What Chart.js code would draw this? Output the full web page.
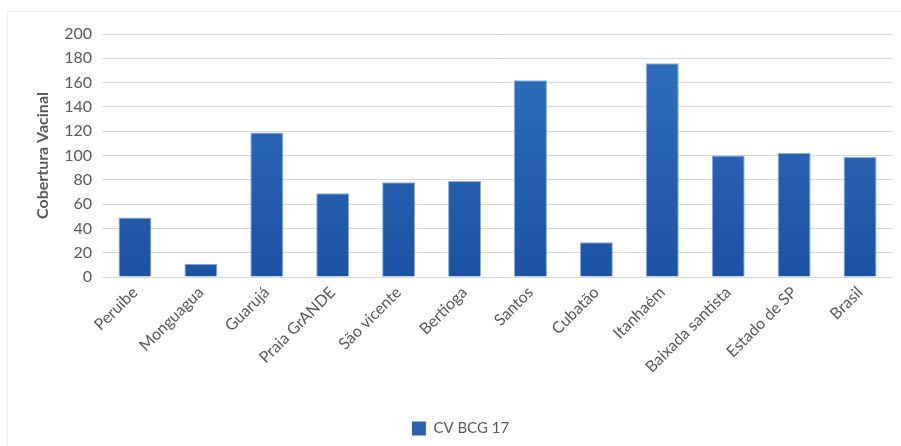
<!DOCTYPE html>
<html>
<head>
<meta charset="utf-8">
<script src="https://cdn.jsdelivr.net/npm/chart.js@4/dist/chart.umd.min.js"></script>
<style>
  html, body { margin: 0; padding: 0; background: #ffffff; }
  #wrap { position: relative; width: 901px; height: 446px; }
  canvas { display: block; }
</style>
</head>
<body>
<div id="wrap"><canvas id="c" width="901" height="446"></canvas></div>
<script>
const categories = ["Peruibe", "Monguagua", "Guarujá", "Praia GrANDE", "São vicente", "Bertioga", "Santos", "Cubatão", "Itanhaém", "Baixada santista", "Estado de SP", "Brasil"];
const seriesName = "CV BCG 17";
const values = [49, 11, 119, 69, 78, 79, 162, 28.5, 176, 100, 102, 99];
const yTicks = [0, 20, 40, 60, 80, 100, 120, 140, 160, 180, 200];
const yTitle = "Cobertura Vacinal";

const textColor = "#595959";
const fontFamily = "Lato, 'Open Sans', sans-serif";

const framePlugin = {
  id: "frame",
  beforeDraw(chart) {
    const ctx = chart.ctx;
    ctx.save();
    ctx.fillStyle = "#ffffff";
    ctx.fillRect(0, 0, chart.width, chart.height);
    ctx.strokeStyle = "#ececec";
    ctx.lineWidth = 1;
    ctx.beginPath();
    ctx.moveTo(7.5, chart.height);
    ctx.lineTo(7.5, 11.5);
    ctx.lineTo(chart.width, 11.5);
    ctx.stroke();
    ctx.restore();
  }
};

function barGradient(context) {
  const chart = context.chart;
  const area = chart.chartArea;
  if (!area) return "#2a64b0";
  const g = chart.ctx.createLinearGradient(0, area.top, 0, area.bottom);
  g.addColorStop(0, "#3171bd");
  g.addColorStop(1, "#1c52a3");
  return g;
}

new Chart(document.getElementById("c"), {
  type: "bar",
  data: {
    labels: categories,
    datasets: [{
      label: seriesName,
      data: values,
      backgroundColor: barGradient,
      borderColor: "rgba(90,140,205,0.7)",
      borderWidth: 1,
      categoryPercentage: 1.0,
      barPercentage: 0.5
    }]
  },
  options: {
    responsive: false,
    animation: false,
    devicePixelRatio: 1,
    layout: { padding: { left: 28, right: 8, top: 34, bottom: 0 } },
    plugins: {
      tooltip: { enabled: false },
      legend: {
        position: "bottom",
        labels: {
          color: textColor,
          font: { family: fontFamily, size: 15 },
          boxWidth: 14,
          boxHeight: 14,
          padding: 4,
          generateLabels(chart) {
            return [{
              text: seriesName,
              fillStyle: "#2a62ae",
              strokeStyle: "#2a62ae",
              lineWidth: 0,
              fontColor: textColor,
              datasetIndex: 0
            }];
          }
        }
      }
    },
    scales: {
      x: {
        grid: { display: false, drawTicks: false },
        border: { display: false },
        ticks: {
          color: textColor,
          font: { family: fontFamily, size: 16 },
          minRotation: 45,
          maxRotation: 45,
          padding: 6,
          autoSkip: false
        },
        afterFit(scale) { scale.height = 140; }
      },
      y: {
        min: 0,
        max: 200,
        afterBuildTicks(scale) { scale.ticks = yTicks.map(v => ({ value: v })); },
        grid: { color: "#d9d9d9", lineWidth: 1, drawTicks: false },
        border: { display: false },
        ticks: {
          color: textColor,
          font: { family: fontFamily, size: 16 },
          padding: 10
        },
        title: {
          display: true,
          text: yTitle,
          color: textColor,
          font: { family: fontFamily, size: 16, weight: "bold" },
          padding: { top: 5, bottom: 0 }
        },
        afterFit(scale) { scale.width = 74; }
      }
    }
  },
  plugins: [framePlugin]
});
</script>
</body>
</html>
